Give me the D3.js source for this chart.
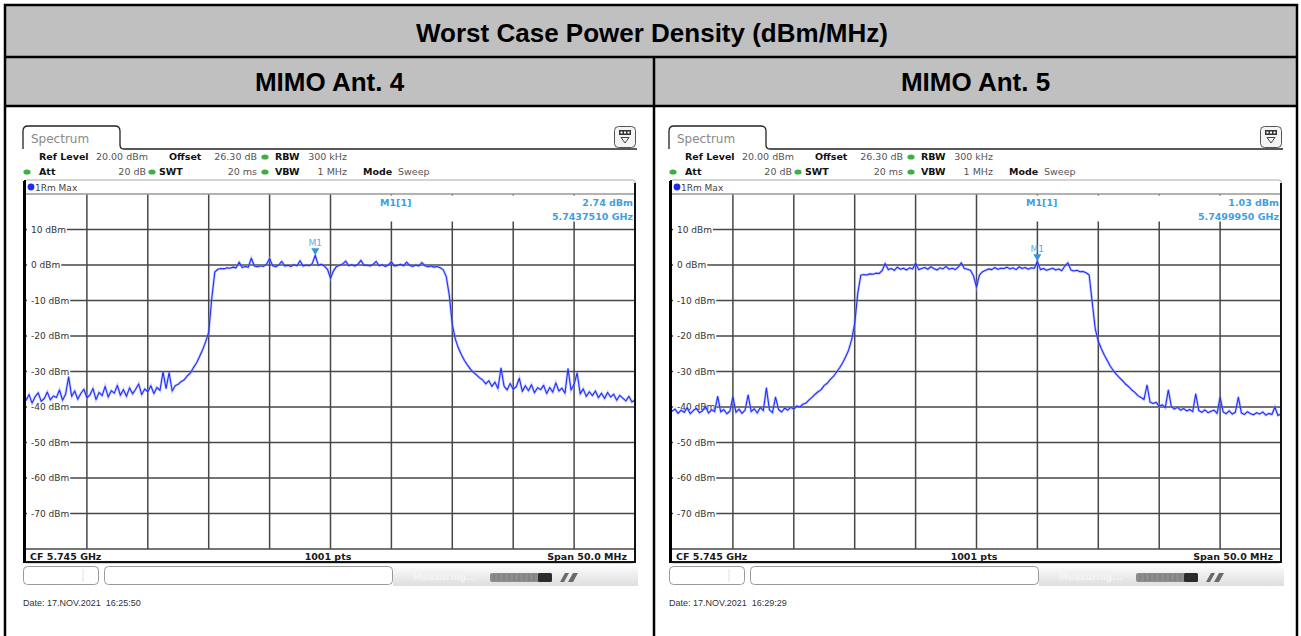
<!DOCTYPE html>
<html>
<head>
<meta charset="utf-8">
<script src="https://cdn.jsdelivr.net/npm/d3@7"></script>
<style>
    body {margin: 0; background: #fff;}
    svg {display: block;}
</style>
</head>
<body>
<svg id="chart" width="1301" height="636"></svg>
<script>
// ---- data ----
const tableTitle = 'Worst Case Power Density (dBm/MHz)';
const panelTitles = ['MIMO Ant. 4', 'MIMO Ant. 5'];
const yTicks = [10, 0, -10, -20, -30, -40, -50, -60, -70];
const refLevel = 20;        // top of screen, dBm
const bottomLevel = -80;    // bottom of screen, dBm
const startGHz = 5.720;     // CF 5.745 GHz, span 50 MHz
const stopGHz = 5.770;
const settings = [['Ref Level', '20.00 dBm'], ['Offset', '26.30 dB'], ['RBW', '300 kHz'],
    ['Att', '20 dB'], ['SWT', '20 ms'], ['VBW', '1 MHz'], ['Mode', 'Sweep']];
const statusTexts = ['CF 5.745 GHz', '1001 pts', 'Span 50.0 MHz'];
const traceName = '1Rm Max';

// max-hold trace, Ant. 4 (dBm, equally spaced over the span)
const ant4 = [
    -38.2, -36.5, -38.9, -37.1, -36.0, -38.4, -37.6, -35.8, -38.0, -36.9,
    -37.3, -35.2, -38.1, -36.4, -31.5, -37.0, -35.5, -37.8, -36.2, -35.0,
    -37.4, -36.6, -34.8, -37.9, -35.9, -36.8, -34.2, -37.2, -35.4, -36.1,
    -33.9, -36.7, -35.1, -37.0, -34.6, -36.3, -35.0, -33.5, -36.5, -34.9,
    -35.7, -34.0, -36.2, -34.5, -35.3, -30.1, -34.8, -30.3, -35.5, -34.0,
    -33.6, -32.8, -32.3, -31.2, -30.4, -28.9, -27.6, -25.8, -23.9, -21.6,
    -19.0, -9.5, -2.0, -1.2, -1.0, -1.1, -0.8, -0.9, -0.6, -0.8,
    0.8, -0.7, -0.4, -0.6, 1.9, -0.3, -0.5, -0.2, -0.4, 0.2,
    1.8, -0.2, -0.5, 0.0, 1.0, -0.3, -0.1, -0.4, 0.1, -0.2,
    1.2, -0.3, 0.0, -0.2, 0.4, 2.74, -0.1, 0.2, -0.3, -1.2,
    -3.7, -1.6, -0.4, -0.1, 0.3, 1.1, -0.2, 0.1, -0.3, 0.2,
    1.3, -0.1, 0.0, -0.3, 0.2, 1.0, -0.2, 0.1, -0.4, 0.0,
    0.9, -0.3, -0.1, 0.2, -0.2, 0.8, -0.1, -0.4, 0.0, -0.3,
    0.7, -0.2, -0.5, -0.3, -0.6, -0.4, -0.8, -1.3, -3.2, -8.5,
    -16.8, -20.9, -23.4, -25.3, -26.9, -28.2, -29.4, -30.3, -31.0, -31.8,
    -32.4, -33.5, -32.6, -34.2, -33.0, -34.8, -29.0, -34.1, -35.2, -33.4,
    -35.0, -34.3, -31.9, -35.6, -34.0, -35.4, -33.7, -36.0, -34.6, -35.1,
    -33.9, -36.2, -34.5, -35.8, -33.2, -35.5, -34.7, -36.1, -29.2, -35.2,
    -33.6, -30.4, -36.3, -34.9, -37.0, -35.7, -36.8, -35.5, -37.4, -36.1,
    -37.6, -35.9, -37.2, -36.4, -38.1, -36.7, -37.5, -38.3, -37.0, -38.6,
    -38.0
];

// max-hold trace, Ant. 5
const ant5 = [
    -41.2, -40.6, -41.8, -40.9, -41.5, -40.2, -41.9, -41.0, -40.4, -41.6,
    -41.1, -39.8, -41.7, -40.8, -41.3, -37.0, -41.4, -40.7, -41.9, -41.2,
    -37.1, -41.5, -40.6, -41.8, -40.9, -36.6, -41.3, -40.5, -41.7, -40.1,
    -41.0, -34.6, -40.8, -41.6, -37.2, -40.7, -41.4, -40.3, -40.9, -40.1,
    -40.6, -39.7, -40.0, -39.2, -38.9, -38.0, -37.3, -36.4, -35.7, -35.1,
    -33.9, -33.3, -32.2, -31.4, -30.2, -29.0, -27.6, -25.9, -24.0, -21.0,
    -16.5, -8.0, -2.9, -2.7, -2.8, -2.5, -2.6, -2.3, -2.4, -1.6,
    0.4, -1.3, -1.0, -1.5, -0.6, -1.2, -0.9, -1.4, -0.8, -1.1,
    0.5, -1.3, -1.0, -0.7, -1.2, -0.5, -1.0, -1.4, -0.8, -1.1,
    -0.4, -1.2, -0.9, -1.3, -0.6, 0.6, -1.0, -1.2, -1.5, -3.0,
    -6.2, -2.8, -1.9, -1.5, -1.1, -1.3, -0.7, -1.2, -0.9, -1.0,
    -0.6, -1.1, -0.8, -1.3, -0.5, -1.0, -0.7, -1.2, -0.8, -0.9,
    1.03, -1.3, -1.0, -1.5, -1.2, -0.9, -1.4, -1.1, -1.6, -0.3,
    0.6, -1.4, -1.7, -1.5, -1.9, -1.8, -2.2, -2.8, -10.5, -18.0,
    -21.5, -23.6, -25.4, -27.0, -28.6, -29.8, -30.9, -31.8, -32.6, -33.6,
    -34.3, -35.2, -35.9, -36.8, -37.3, -37.9, -33.8, -38.6, -39.0, -38.7,
    -39.8, -39.4, -40.2, -35.2, -39.9, -40.6, -40.1, -40.9, -40.4, -41.1,
    -40.7, -41.3, -36.3, -41.0, -41.5, -40.8, -41.6, -41.2, -40.9, -41.8,
    -37.2, -41.4, -41.9, -41.1, -42.0, -41.5, -37.2, -41.7, -42.1, -41.3,
    -41.9, -42.2, -41.6, -42.0, -41.4, -42.3, -41.8, -42.1, -40.0, -42.4,
    -42.0
];

const markerFreqs = [5.7437510, 5.7499950];   // GHz
const markerLevels = [2.74, 1.03];            // dBm
const dates = ['Date: 17.NOV.2021  16:25:50', 'Date: 17.NOV.2021  16:29:29'];

const svg = d3.select('#chart');
const blue = '#1f2fff';
const mkBlue = '#3f9fe3';
const hdrFont = '"DejaVu Sans", Verdana, sans-serif';
const tblFont = '"Liberation Sans", Arial, sans-serif';

/**
 * table around the two screenshots
 * */
svg.append('rect').attr('x', 5).attr('y', 5).attr('width', 1292).attr('height', 101).attr('fill', '#c0c0c0');
svg.append('rect').attr('x', 5).attr('y', 5).attr('width', 1292).attr('height', 660)
    .attr('fill', 'none').attr('stroke', '#000').attr('stroke-width', 2.5);
svg.append('line').attr('x1', 5).attr('x2', 1297).attr('y1', 57).attr('y2', 57)
    .attr('stroke', '#000').attr('stroke-width', 2.5);
svg.append('line').attr('x1', 5).attr('x2', 1297).attr('y1', 106).attr('y2', 106)
    .attr('stroke', '#000').attr('stroke-width', 2.5);
svg.append('line').attr('x1', 654).attr('x2', 654).attr('y1', 57).attr('y2', 660)
    .attr('stroke', '#000').attr('stroke-width', 2.5);

svg.append('text').text(tableTitle)
    .attr('x', 652).attr('y', 42)
    .attr('text-anchor', 'middle')
    .attr('font-family', tblFont)
    .attr('font-weight', 'bold').attr('font-size', 26);

const colCenters = [329.5, 975.5];
panelTitles.forEach((t, i) => {
    svg.append('text').text(t)
        .attr('x', colCenters[i]).attr('y', 91)
        .attr('text-anchor', 'middle')
        .attr('font-family', tblFont)
        .attr('font-weight', 'bold').attr('font-size', 26);
});

const grad = svg.append('defs').append('linearGradient')
    .attr('id', 'barGrad').attr('x1', 0).attr('x2', 0).attr('y1', 0).attr('y2', 1);
grad.append('stop').attr('offset', '0%').attr('stop-color', '#fbfbfb');
grad.append('stop').attr('offset', '100%').attr('stop-color', '#dedede');

/**
 * one analyzer screenshot
 * */
function drawPanel(ox, trace, mFreq, mLevel, date) {
    const g = svg.append('g').attr('transform', `translate(${ox},0)`);
    const x = d3.scaleLinear().domain([startGHz, stopGHz]).range([26, 635]);
    const y = d3.scaleLinear().domain([bottomLevel, refLevel]).range([549, 194]);
    const step = (stopGHz - startGHz) / (trace.length - 1);

    // tab + header line
    g.append('path')
        .attr('d', 'M23,149 L23,131 Q23,126 28,126 L115,126 Q120,126 120,131 L120,145 Q120,149 124,149 L637,149')
        .attr('fill', 'none').attr('stroke', '#222').attr('stroke-width', 1.3);
    g.append('text').text('Spectrum')
        .attr('x', 31).attr('y', 142.5)
        .attr('font-family', hdrFont).attr('font-size', 12).attr('fill', '#8a8a8a');

    // small menu icon
    const ic = g.append('g').attr('transform', 'translate(614,126)');
    ic.append('rect').attr('x', 0.5).attr('y', 0.5).attr('width', 21).attr('height', 21).attr('rx', 4)
        .attr('fill', '#f4f4f4').attr('stroke', '#555');
    ic.append('rect').attr('x', 5).attr('y', 4).attr('width', 12).attr('height', 5).attr('fill', '#333');
    [7.5, 11, 14.5].forEach(cx => ic.append('rect').attr('x', cx - 1).attr('y', 5.5).attr('width', 2).attr('height', 2).attr('fill', '#fff'));
    ic.append('path').attr('d', 'M7,11.5 L15,11.5 L11,17 Z').attr('fill', 'none').attr('stroke', '#444');

    // setting rows
    const lay = [
        {lx: 39, vx: 148, y: 160}, {lx: 169, vx: 257, y: 160}, {lx: 275, vx: 347, y: 160},
        {lx: 39, vx: 146, y: 175}, {lx: 159, vx: 257, y: 175}, {lx: 275, vx: 347, y: 175},
        {lx: 363, vx: 398, y: 175, left: true}
    ];
    settings.forEach((s, i) => {
        const p = lay[i];
        g.append('text').text(s[0]).attr('x', p.lx).attr('y', p.y)
            .attr('font-family', hdrFont).attr('font-size', 9.5).attr('font-weight', 'bold').attr('fill', '#111');
        g.append('text').text(s[1]).attr('x', p.vx).attr('y', p.y)
            .attr('text-anchor', p.left ? 'start' : 'end')
            .attr('font-family', hdrFont).attr('font-size', 9.5).attr('fill', '#555');
    });
    [[265, 157], [27, 172], [152, 172], [265, 172]].forEach(d => {
        g.append('ellipse').attr('cx', d[0]).attr('cy', d[1]).attr('rx', 3.6).attr('ry', 2.6).attr('fill', '#3fae45');
    });

    // trace window
    g.append('rect').attr('x', 24).attr('y', 180).attr('width', 611.5).attr('height', 383).attr('rx', 3)
        .attr('fill', '#fff').attr('stroke', '#aaa').attr('stroke-width', 1);
    g.append('circle').attr('cx', 31).attr('cy', 187).attr('r', 3.4).attr('fill', '#1d2df0');
    g.append('text').text(traceName).attr('x', 35).attr('y', 190.5)
        .attr('font-family', hdrFont).attr('font-size', 9).attr('fill', '#444');

    // grid
    const grid = g.append('g').attr('stroke', '#474747').attr('stroke-width', 1.5);
    const vTicks = d3.range(1, 10).map(k => startGHz + k * (stopGHz - startGHz) / 10);
    grid.selectAll('.v').data(vTicks).enter().append('line')
        .attr('x1', d => x(d)).attr('x2', d => x(d)).attr('y1', y(refLevel)).attr('y2', y(bottomLevel));
    grid.selectAll('.h').data([refLevel, ...yTicks, bottomLevel]).enter().append('line')
        .attr('x1', 26).attr('x2', 635).attr('y1', d => y(d)).attr('y2', d => y(d))
        .attr('stroke', (d, i) => (i === 0 ? '#999' : null));

    // marker readout box
    g.append('rect').attr('x', 333).attr('y', 195.5).attr('width', 301).attr('height', 26).attr('fill', '#fff');
    const mk = g.append('g').attr('font-family', hdrFont).attr('font-size', 9.5)
        .attr('font-weight', 'bold').attr('fill', mkBlue);
    mk.append('text').text('M1[1]').attr('x', 380).attr('y', 206);
    mk.append('text').text(mLevel.toFixed(2) + ' dBm').attr('x', 633).attr('y', 206).attr('text-anchor', 'end');
    mk.append('text').text(mFreq.toFixed(7) + ' GHz').attr('x', 633).attr('y', 220).attr('text-anchor', 'end');

    // level labels
    yTicks.forEach(t => {
        const lbl = g.append('g');
        const bg = lbl.append('rect').attr('fill', '#fff');
        const tx = lbl.append('text').text(t + ' dBm')
            .attr('x', 31).attr('y', y(t) + 3.3)
            .attr('font-family', hdrFont).attr('font-size', 9).attr('fill', '#333');
        const w = tx.node().getComputedTextLength();
        bg.attr('x', 27).attr('y', y(t) - 5).attr('width', w + 5).attr('height', 10);
    });

    // trace
    const line = d3.line()
        .x((d, i) => x(startGHz + i * step))
        .y(d => y(d));
    g.append('path').attr('d', line(trace))
        .attr('fill', 'none').attr('stroke', '#8e98ff').attr('stroke-width', 2.6).attr('stroke-opacity', 0.5);
    g.append('path').attr('d', line(trace))
        .attr('fill', 'none').attr('stroke', blue).attr('stroke-width', 1.1).attr('stroke-linejoin', 'round');

    // marker
    const mx = x(mFreq), my = y(mLevel);
    g.append('path').attr('d', `M${mx - 4},${my - 7} L${mx + 4},${my - 7} L${mx},${my} Z`).attr('fill', '#2f96df');
    g.append('text').text('M1').attr('x', mx).attr('y', my - 9.5).attr('text-anchor', 'middle')
        .attr('font-family', hdrFont).attr('font-size', 9).attr('fill', '#55b0ea');

    // status line inside the window
    const st = g.append('g').attr('font-family', hdrFont).attr('font-size', 9.5)
        .attr('font-weight', 'bold').attr('fill', '#1a1a1a');
    st.append('text').text(statusTexts[0]).attr('x', 30).attr('y', 559.5);
    st.append('text').text(statusTexts[1]).attr('x', 328).attr('y', 559.5).attr('text-anchor', 'middle');
    st.append('text').text(statusTexts[2]).attr('x', 627).attr('y', 559.5).attr('text-anchor', 'end');

    // window border
    g.append('path').attr('d', 'M25,180 L25,562 L635,562 L635,183')
        .attr('fill', 'none').attr('stroke', '#111').attr('stroke-width', 2);
    g.append('line').attr('x1', 24.5).attr('x2', 24.5).attr('y1', 181).attr('y2', 563)
        .attr('stroke', '#000').attr('stroke-width', 3);

    // softkey / progress bar below
    g.append('rect').attr('x', 393).attr('y', 566).attr('width', 245).attr('height', 20).attr('fill', 'url(#barGrad)');
    g.append('rect').attr('x', 23.5).attr('y', 566.5).attr('width', 75).attr('height', 18).attr('rx', 4)
        .attr('fill', '#fff').attr('stroke', '#9a9a9a');
    g.append('line').attr('x1', 83).attr('x2', 83).attr('y1', 569).attr('y2', 582).attr('stroke', '#e2e2e2');
    g.append('rect').attr('x', 104.5).attr('y', 566.5).attr('width', 288).attr('height', 18).attr('rx', 4)
        .attr('fill', '#fff').attr('stroke', '#9a9a9a');
    g.append('text').text('Measuring...').attr('x', 413).attr('y', 580)
        .attr('font-family', hdrFont).attr('font-size', 9).attr('font-weight', 'bold').attr('fill', '#f4f4f4');
    g.append('rect').attr('x', 490).attr('y', 573).attr('width', 62).attr('height', 9).attr('rx', 2).attr('fill', '#8c8c8c');
    d3.range(494, 538, 5).forEach(sx => g.append('line').attr('x1', sx).attr('x2', sx).attr('y1', 574).attr('y2', 581)
        .attr('stroke', '#7a7a7a'));
    g.append('rect').attr('x', 538).attr('y', 573).attr('width', 14).attr('height', 9).attr('rx', 1.5).attr('fill', '#2c2c2c');
    g.append('path').attr('d', 'M560,582 L565,573 L569,573 L564,582 Z M568,582 L573,573 L578,573 L573,582 Z')
        .attr('fill', '#6a6a6a');

    g.append('text').text(date).attr('x', 23).attr('y', 606)
        .style('white-space', 'pre')
        .attr('font-family', tblFont).attr('font-size', 9).attr('fill', '#333');
}

drawPanel(0, ant4, markerFreqs[0], markerLevels[0], dates[0]);
drawPanel(646, ant5, markerFreqs[1], markerLevels[1], dates[1]);
</script>
</body>
</html>
